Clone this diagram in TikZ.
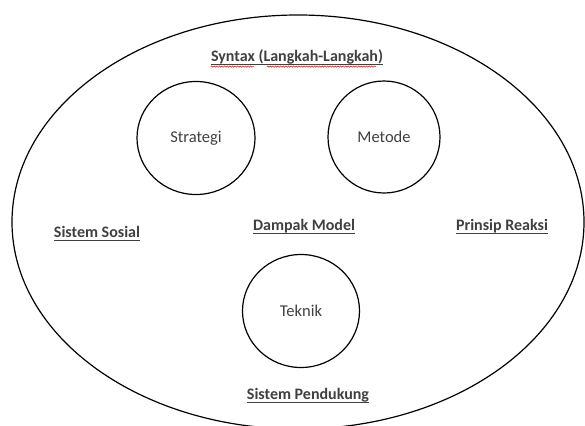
\documentclass[tikz,border=0pt]{standalone}
\usepackage{fontspec}
\setmainfont{Carlito}
\usetikzlibrary{shapes.geometric,decorations.pathmorphing}
\definecolor{txt}{HTML}{404040}
\begin{document}
\begin{tikzpicture}[x=1pt,y=-1pt,
  lbl/.style={font=\bfseries\fontsize{16}{18}\selectfont, text=txt, inner sep=0pt},
  plain/.style={font=\fontsize{16.5}{18}\selectfont, text=txt},
  ring/.style={draw=black, line width=1.2pt, ellipse, inner sep=0pt},
  uline/.style={draw=txt, line width=0.9pt},
  spell/.style={draw=red, line width=0.5pt, decorate, decoration={snake, amplitude=0.7pt, segment length=2.6pt}}]
\clip (0,0) rectangle (585,425);
\useasboundingbox (0,0) rectangle (585,425);
\node[ring, minimum width=572pt, minimum height=414pt] (frame) at (298,222) {};
\node[ring, plain, minimum width=118pt, minimum height=113pt] (strategi) at (196,138) {Strategi};
\node[ring, plain, minimum width=112pt, minimum height=112pt] (metode) at (384,137) {Metode};
\node[ring, plain, minimum width=117pt, minimum height=113pt] (teknik) at (301,311) {Teknik};
\node[lbl] (syntax) at (297,57) {Syntax (Langkah-Langkah)};
\node[lbl] (sosial) at (97,232) {Sistem Sosial};
\node[lbl] (dampak) at (304,226) {Dampak Model};
\node[lbl] (reaksi) at (502,226) {Prinsip Reaksi};
\node[lbl] (pendukung) at (308,395) {Sistem Pendukung};
\foreach \n in {syntax,sosial,dampak,reaksi,pendukung}
  \draw[uline] ([yshift=-3pt]\n.base west) -- ([yshift=-3pt]\n.base east);
\draw[spell] ([yshift=-5pt]syntax.base west) -- ++(43,0);
\draw[spell] ([xshift=56pt,yshift=-5pt]syntax.base west) -- ++(109,0);
\end{tikzpicture}
\end{document}
